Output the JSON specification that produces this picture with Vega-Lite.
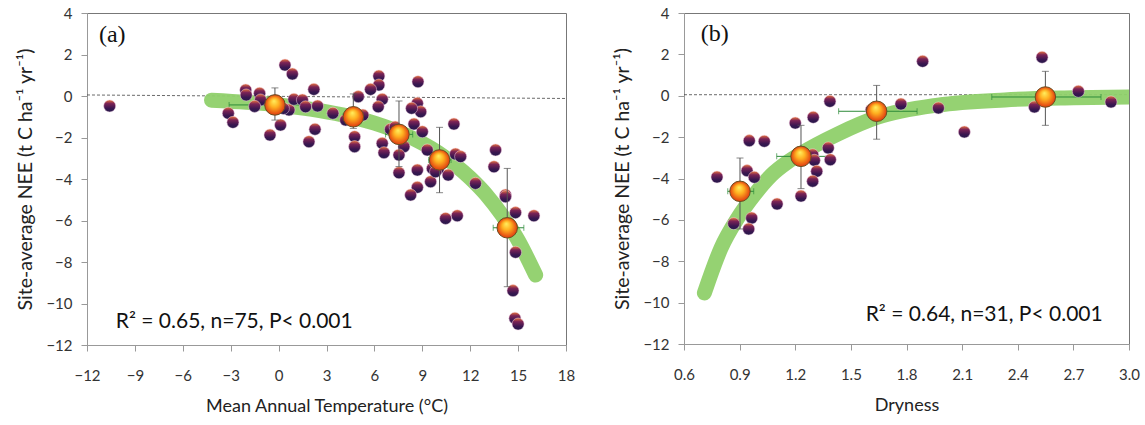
{
  "$schema": "https://vega.github.io/schema/vega-lite/v6.json",
  "padding": {"left": 15, "top": 5, "right": 10, "bottom": 5},
  "spacing": 36,
  "config": {
    "font": "Lato",
    "view": {"stroke": "#777", "strokeWidth": 1},
    "axis": {"grid": false, "domainColor": "#999", "tickColor": "#999", "tickSize": 6, "labelFont": "Lato", "labelFontSize": 15, "labelColor": "#333", "titleFont": "Lato", "titleFontSize": 18, "titleFontWeight": "normal", "titleColor": "#222", "labelFlush": false},
    "axisY": {"titleFontSize": 19.5}
  },
  "datasets": {
    "dotsA": [
      {"x": -10.58, "y": -0.48}, {"x": -2.06, "y": 0.29}, {"x": -2.03, "y": 0.05}, {"x": -1.19, "y": 0.13}, {"x": -1.13, "y": -0.19},
      {"x": -3.15, "y": -0.83}, {"x": -2.86, "y": -1.27}, {"x": 0.4, "y": 1.49}, {"x": 0.86, "y": 1.06}, {"x": 0.12, "y": -1.4},
      {"x": -0.54, "y": -1.88}, {"x": 0.65, "y": -0.67}, {"x": 0.96, "y": -0.16}, {"x": 1.49, "y": -0.19}, {"x": 1.69, "y": -0.52},
      {"x": 2.44, "y": -0.48}, {"x": 2.21, "y": 0.32}, {"x": 2.28, "y": -1.6}, {"x": 1.9, "y": -2.2}, {"x": 3.4, "y": -0.83},
      {"x": 4.99, "y": -0.03}, {"x": 4.2, "y": -1.16}, {"x": 5.28, "y": -0.92}, {"x": 4.76, "y": -1.96}, {"x": 4.76, "y": -2.44},
      {"x": 6.28, "y": 0.96}, {"x": 6.28, "y": 0.53}, {"x": 5.76, "y": 0.32}, {"x": 6.49, "y": -0.16}, {"x": 6.24, "y": -0.52},
      {"x": 6.49, "y": -2.28}, {"x": 6.6, "y": -2.73}, {"x": 8.73, "y": 0.69}, {"x": 8.69, "y": -0.35}, {"x": 8.9, "y": -0.76},
      {"x": 8.33, "y": -0.59}, {"x": 7.01, "y": -1.6}, {"x": 8.48, "y": -1.35}, {"x": 9.0, "y": -1.72}, {"x": 7.85, "y": -2.44},
      {"x": 7.54, "y": -2.84}, {"x": 7.54, "y": -3.7}, {"x": 8.69, "y": -3.57}, {"x": 9.31, "y": -2.6}, {"x": 10.98, "y": -1.35},
      {"x": 11.08, "y": -2.8}, {"x": 11.4, "y": -2.92}, {"x": 9.63, "y": -3.49}, {"x": 10.62, "y": -3.81}, {"x": 9.52, "y": -4.13},
      {"x": 8.69, "y": -4.4}, {"x": 8.27, "y": -4.77}, {"x": 13.59, "y": -2.6}, {"x": 13.49, "y": -3.41}, {"x": 12.33, "y": -4.21},
      {"x": 14.21, "y": -4.77}, {"x": 14.21, "y": -4.85}, {"x": 14.84, "y": -5.62}, {"x": 15.99, "y": -5.77}, {"x": 10.46, "y": -5.9},
      {"x": 11.19, "y": -5.77}, {"x": 14.84, "y": -7.53}, {"x": 14.68, "y": -9.38}, {"x": 14.8, "y": -10.71}, {"x": 15.0, "y": -10.99},
      {"x": 9.83, "y": -3.24}, {"x": -0.2, "y": -0.2}, {"x": 0.3, "y": -0.6}, {"x": 4.9, "y": -1.1}, {"x": 7.8, "y": -1.9},
      {"x": 10.3, "y": -3.0}, {"x": 10.0, "y": -3.5}, {"x": 9.83, "y": -3.65}, {"x": 7.3, "y": -1.5}, {"x": -1.5, "y": -0.5}
    ],
    "meansA": [
      {"x": -0.23, "y": -0.43, "xlo": -3.1, "xhi": 2.64, "ylo": -1.16, "yhi": 0.39},
      {"x": 4.68, "y": -1.0, "xlo": 4.0, "xhi": 5.4, "ylo": -1.56, "yhi": 0.1},
      {"x": 7.54, "y": -1.85, "xlo": 6.7, "xhi": 8.4, "ylo": -3.4, "yhi": -0.24},
      {"x": 10.08, "y": -3.08, "xlo": 9.4, "xhi": 10.8, "ylo": -4.66, "yhi": -1.51},
      {"x": 14.32, "y": -6.35, "xlo": 13.44, "xhi": 15.36, "ylo": -9.19, "yhi": -3.49}
    ],
    "curveA": [
      {"x": -4.2, "y": -0.2}, {"x": -2, "y": -0.3}, {"x": 0, "y": -0.43}, {"x": 2, "y": -0.63}, {"x": 4, "y": -0.91},
      {"x": 6, "y": -1.31}, {"x": 8, "y": -1.89}, {"x": 10, "y": -2.73}, {"x": 12, "y": -3.95}, {"x": 13, "y": -4.75},
      {"x": 14, "y": -5.75}, {"x": 15, "y": -6.95}, {"x": 16.1, "y": -8.63}
    ],
    "zeroA": [{"x": -12, "y": 0.05}, {"x": 18, "y": -0.12}],
    "dotsB": [
      {"x": 1.887, "y": 1.665}, {"x": 2.531, "y": 1.86}, {"x": 2.727, "y": 0.215}, {"x": 2.903, "y": -0.3}, {"x": 2.49, "y": -0.54},
      {"x": 1.972, "y": -0.59}, {"x": 2.112, "y": -1.75}, {"x": 1.77, "y": -0.4}, {"x": 1.387, "y": -0.27}, {"x": 1.297, "y": -1.04},
      {"x": 1.2, "y": -1.32}, {"x": 0.952, "y": -2.17}, {"x": 1.033, "y": -2.2}, {"x": 1.378, "y": -2.52}, {"x": 1.389, "y": -3.09},
      {"x": 1.294, "y": -2.85}, {"x": 1.303, "y": -3.12}, {"x": 1.316, "y": -3.65}, {"x": 1.294, "y": -4.13}, {"x": 1.231, "y": -4.85},
      {"x": 0.778, "y": -3.93}, {"x": 0.94, "y": -3.62}, {"x": 0.979, "y": -3.94}, {"x": 1.102, "y": -5.23}, {"x": 0.868, "y": -6.18},
      {"x": 0.965, "y": -5.91}, {"x": 0.949, "y": -6.44}, {"x": 1.61, "y": -0.68}, {"x": 2.55, "y": -0.1}, {"x": 0.9, "y": -4.5},
      {"x": 1.25, "y": -2.95}
    ],
    "meansB": [
      {"x": 0.902, "y": -4.62, "xlo": 0.836, "xhi": 0.976, "ylo": -6.44, "yhi": -3.01},
      {"x": 1.231, "y": -2.93, "xlo": 1.1, "xhi": 1.384, "ylo": -4.49, "yhi": -1.43},
      {"x": 1.639, "y": -0.75, "xlo": 1.434, "xhi": 1.857, "ylo": -2.1, "yhi": 0.5},
      {"x": 2.549, "y": -0.06, "xlo": 2.26, "xhi": 2.849, "ylo": -1.43, "yhi": 1.18}
    ],
    "curveB": [
      {"x": 0.71, "y": -9.53}, {"x": 0.8, "y": -7.36}, {"x": 0.89, "y": -5.91}, {"x": 0.98, "y": -4.78}, {"x": 1.07, "y": -3.85},
      {"x": 1.16, "y": -3.2}, {"x": 1.23, "y": -2.8}, {"x": 1.43, "y": -1.85}, {"x": 1.64, "y": -1.05}, {"x": 1.97, "y": -0.45},
      {"x": 2.33, "y": -0.2}, {"x": 2.7, "y": -0.1}, {"x": 3.05, "y": -0.05}
    ],
    "zeroB": [{"x": 0.6, "y": 0.05}, {"x": 3.0, "y": 0.05}],
    "labelsA": [{"x": -11.25, "y": 2.6, "t": "(a)", "k": "panel"}, {"x": -10.2, "y": -11.18, "t": "R² = 0.65, n=75, P< 0.001", "k": "stat"}],
    "labelsB": [{"x": 0.69, "y": 2.65, "t": "(b)", "k": "panel"}, {"x": 1.58, "y": -10.89, "t": "R² = 0.64, n=31, P< 0.001", "k": "stat"}]
  },
  "hconcat": [
    {
      "width": 479,
      "height": 332,
      "layer": [
        {
          "data": {"name": "zeroA"},
          "mark": {"type": "line", "color": "#444", "strokeWidth": 0.8, "strokeDash": [3, 2]},
          "encoding": {
            "x": {"field": "x", "type": "quantitative", "scale": {"domain": [-12, 18], "nice": false, "zero": false}, "axis": {"values": [-12, -9, -6, -3, 0, 3, 6, 9, 12, 15, 18], "title": "Mean Annual Temperature (°C)", "labelPadding": 17, "titlePadding": 14}},
            "y": {"field": "y", "type": "quantitative", "scale": {"domain": [-12, 4], "nice": false, "zero": false}, "axis": {"values": [-12, -10, -8, -6, -4, -2, 0, 2, 4], "title": "Site-average NEE (t C ha⁻¹ yr⁻¹)", "labelPadding": 9, "titlePadding": 10}}
          }
        },
        {
          "data": {"name": "curveA"},
          "mark": {"type": "line", "color": "#8fd06a", "strokeWidth": 15, "strokeCap": "round", "strokeJoin": "round", "interpolate": "monotone", "opacity": 0.95},
          "encoding": {"x": {"field": "x", "type": "quantitative"}, "y": {"field": "y", "type": "quantitative"}}
        },
        {
          "data": {"name": "meansA"},
          "mark": {"type": "rule", "color": "#2e8b3a", "strokeWidth": 1},
          "encoding": {"x": {"field": "xlo", "type": "quantitative"}, "x2": {"field": "xhi"}, "y": {"field": "y", "type": "quantitative"}}
        },
        {
          "data": {"name": "meansA"},
          "layer": [
            {"mark": {"type": "tick", "orient": "vertical", "size": 6, "thickness": 1, "color": "#2e8b3a"}, "encoding": {"x": {"field": "xlo", "type": "quantitative"}, "y": {"field": "y", "type": "quantitative"}}},
            {"mark": {"type": "tick", "orient": "vertical", "size": 6, "thickness": 1, "color": "#2e8b3a"}, "encoding": {"x": {"field": "xhi", "type": "quantitative"}, "y": {"field": "y", "type": "quantitative"}}}
          ]
        },
        {
          "data": {"name": "dotsA"},
          "mark": {"type": "point", "shape": "circle", "filled": true, "size": 145, "opacity": 1, "stroke": "#f0cde0", "strokeWidth": 0.5,
            "fill": {"gradient": "linear", "x1": 0, "y1": 0, "x2": 0, "y2": 1, "stops": [{"offset": 0, "color": "#e8743a"}, {"offset": 0.3, "color": "#7b2356"}, {"offset": 0.7, "color": "#3a1650"}, {"offset": 1, "color": "#241a4a"}]}},
          "encoding": {"x": {"field": "x", "type": "quantitative"}, "y": {"field": "y", "type": "quantitative"}}
        },
        {
          "data": {"name": "meansA"},
          "mark": {"type": "rule", "color": "#555", "strokeWidth": 1},
          "encoding": {"x": {"field": "x", "type": "quantitative"}, "y": {"field": "ylo", "type": "quantitative"}, "y2": {"field": "yhi"}}
        },
        {
          "data": {"name": "meansA"},
          "layer": [
            {"mark": {"type": "tick", "orient": "horizontal", "size": 7, "thickness": 1, "color": "#555"}, "encoding": {"x": {"field": "x", "type": "quantitative"}, "y": {"field": "ylo", "type": "quantitative"}}},
            {"mark": {"type": "tick", "orient": "horizontal", "size": 7, "thickness": 1, "color": "#555"}, "encoding": {"x": {"field": "x", "type": "quantitative"}, "y": {"field": "yhi", "type": "quantitative"}}}
          ]
        },
        {
          "data": {"name": "meansA"},
          "mark": {"type": "point", "shape": "circle", "filled": true, "size": 420, "opacity": 1, "stroke": "#6a5020", "strokeWidth": 1,
            "fill": {"gradient": "radial", "x1": 0.45, "y1": 0.3, "r1": 0, "x2": 0.5, "y2": 0.5, "r2": 0.5, "stops": [{"offset": 0, "color": "#fff060"}, {"offset": 0.45, "color": "#ffb020"}, {"offset": 1, "color": "#e03a10"}]}},
          "encoding": {"x": {"field": "x", "type": "quantitative"}, "y": {"field": "y", "type": "quantitative"}}
        },
        {
          "data": {"name": "labelsA"},
          "transform": [{"filter": "datum.k == 'panel'"}],
          "mark": {"type": "text", "align": "left", "baseline": "alphabetic", "font": "Liberation Serif", "fontSize": 24, "color": "#111"},
          "encoding": {"x": {"field": "x", "type": "quantitative"}, "y": {"field": "y", "type": "quantitative"}, "text": {"field": "t"}}
        },
        {
          "data": {"name": "labelsA"},
          "transform": [{"filter": "datum.k == 'stat'"}],
          "mark": {"type": "text", "align": "left", "baseline": "alphabetic", "font": "Lato", "fontSize": 21, "color": "#111"},
          "encoding": {"x": {"field": "x", "type": "quantitative"}, "y": {"field": "y", "type": "quantitative"}, "text": {"field": "t"}}
        }
      ]
    },
    {
      "width": 445,
      "height": 331,
      "layer": [
        {
          "data": {"name": "zeroB"},
          "mark": {"type": "line", "color": "#444", "strokeWidth": 0.8, "strokeDash": [3, 2]},
          "encoding": {
            "x": {"field": "x", "type": "quantitative", "scale": {"domain": [0.6, 3.0], "nice": false, "zero": false}, "axis": {"values": [0.6, 0.9, 1.2, 1.5, 1.8, 2.1, 2.4, 2.7, 3.0], "format": ".1f", "title": "Dryness", "labelPadding": 17, "titlePadding": 14}},
            "y": {"field": "y", "type": "quantitative", "scale": {"domain": [-12, 4], "nice": false, "zero": false}, "axis": {"values": [-12, -10, -8, -6, -4, -2, 0, 2, 4], "title": "Site-average NEE (t C ha⁻¹ yr⁻¹)", "labelPadding": 9, "titlePadding": 10}}
          }
        },
        {
          "data": {"name": "curveB"},
          "mark": {"type": "line", "color": "#8fd06a", "strokeWidth": 15, "strokeCap": "round", "strokeJoin": "round", "interpolate": "monotone", "opacity": 0.95, "clip": true},
          "encoding": {"x": {"field": "x", "type": "quantitative"}, "y": {"field": "y", "type": "quantitative"}}
        },
        {
          "data": {"name": "meansB"},
          "mark": {"type": "rule", "color": "#2e8b3a", "strokeWidth": 1},
          "encoding": {"x": {"field": "xlo", "type": "quantitative"}, "x2": {"field": "xhi"}, "y": {"field": "y", "type": "quantitative"}}
        },
        {
          "data": {"name": "meansB"},
          "layer": [
            {"mark": {"type": "tick", "orient": "vertical", "size": 6, "thickness": 1, "color": "#2e8b3a"}, "encoding": {"x": {"field": "xlo", "type": "quantitative"}, "y": {"field": "y", "type": "quantitative"}}},
            {"mark": {"type": "tick", "orient": "vertical", "size": 6, "thickness": 1, "color": "#2e8b3a"}, "encoding": {"x": {"field": "xhi", "type": "quantitative"}, "y": {"field": "y", "type": "quantitative"}}}
          ]
        },
        {
          "data": {"name": "dotsB"},
          "mark": {"type": "point", "shape": "circle", "filled": true, "size": 145, "opacity": 1, "stroke": "#f0cde0", "strokeWidth": 0.5,
            "fill": {"gradient": "linear", "x1": 0, "y1": 0, "x2": 0, "y2": 1, "stops": [{"offset": 0, "color": "#e8743a"}, {"offset": 0.3, "color": "#7b2356"}, {"offset": 0.7, "color": "#3a1650"}, {"offset": 1, "color": "#241a4a"}]}},
          "encoding": {"x": {"field": "x", "type": "quantitative"}, "y": {"field": "y", "type": "quantitative"}}
        },
        {
          "data": {"name": "meansB"},
          "mark": {"type": "rule", "color": "#555", "strokeWidth": 1},
          "encoding": {"x": {"field": "x", "type": "quantitative"}, "y": {"field": "ylo", "type": "quantitative"}, "y2": {"field": "yhi"}}
        },
        {
          "data": {"name": "meansB"},
          "layer": [
            {"mark": {"type": "tick", "orient": "horizontal", "size": 7, "thickness": 1, "color": "#555"}, "encoding": {"x": {"field": "x", "type": "quantitative"}, "y": {"field": "ylo", "type": "quantitative"}}},
            {"mark": {"type": "tick", "orient": "horizontal", "size": 7, "thickness": 1, "color": "#555"}, "encoding": {"x": {"field": "x", "type": "quantitative"}, "y": {"field": "yhi", "type": "quantitative"}}}
          ]
        },
        {
          "data": {"name": "meansB"},
          "mark": {"type": "point", "shape": "circle", "filled": true, "size": 420, "opacity": 1, "stroke": "#6a5020", "strokeWidth": 1,
            "fill": {"gradient": "radial", "x1": 0.45, "y1": 0.3, "r1": 0, "x2": 0.5, "y2": 0.5, "r2": 0.5, "stops": [{"offset": 0, "color": "#fff060"}, {"offset": 0.45, "color": "#ffb020"}, {"offset": 1, "color": "#e03a10"}]}},
          "encoding": {"x": {"field": "x", "type": "quantitative"}, "y": {"field": "y", "type": "quantitative"}}
        },
        {
          "data": {"name": "labelsB"},
          "transform": [{"filter": "datum.k == 'panel'"}],
          "mark": {"type": "text", "align": "left", "baseline": "alphabetic", "font": "Liberation Serif", "fontSize": 24, "color": "#111"},
          "encoding": {"x": {"field": "x", "type": "quantitative"}, "y": {"field": "y", "type": "quantitative"}, "text": {"field": "t"}}
        },
        {
          "data": {"name": "labelsB"},
          "transform": [{"filter": "datum.k == 'stat'"}],
          "mark": {"type": "text", "align": "left", "baseline": "alphabetic", "font": "Lato", "fontSize": 21, "color": "#111"},
          "encoding": {"x": {"field": "x", "type": "quantitative"}, "y": {"field": "y", "type": "quantitative"}, "text": {"field": "t"}}
        }
      ]
    }
  ]
}
